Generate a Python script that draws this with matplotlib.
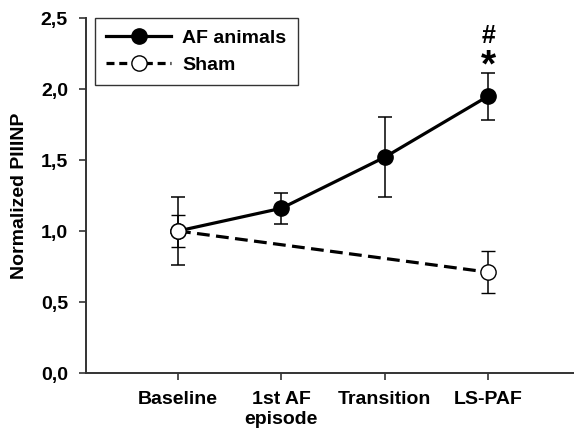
import numpy as np
import matplotlib.pyplot as plt
from matplotlib.lines import Line2D

plt.rcParams['font.family'] = ['Liberation Sans', 'DejaVu Sans']
plt.rcParams['font.weight'] = 'bold'

# data
stages = ['Baseline', '1st AF\nepisode', 'Transition', 'LS-PAF']
af_x = [1, 2, 3, 4]
af_y = [1.0, 1.16, 1.52, 1.95]
af_err = [0.24, 0.11, 0.28, 0.165]
sham_x = [1, 4]
sham_y = [1.0, 0.71]
sham_err = [0.11, 0.15]
yticks = [0.0, 0.5, 1.0, 1.5, 2.0, 2.5]

fig = plt.figure(figsize=(5.74, 4.4), dpi=100)
ax = fig.add_axes([86/574, 1-373/440, 1-86/574, (373-18)/440])

dash = (0, (4, 2))
ax.errorbar(af_x, af_y, yerr=af_err, color='black', lw=2.3, marker='o', ms=11,
            mfc='black', mec='black', ecolor='black', elinewidth=1.1, capsize=5,
            capthick=1.1, zorder=3)
ax.errorbar(sham_x, sham_y, yerr=sham_err, color='black', lw=2.3, ls=dash,
            marker='o', ms=11, mfc='white', mec='black', mew=1.0, ecolor='black',
            elinewidth=1.1, capsize=5, capthick=1.1, zorder=4)

ax.text(4, 2.37, '#', ha='center', va='center', fontsize=18, fontweight='bold')
ax.text(4, 2.16, '*', ha='center', va='center', fontsize=28, fontweight='bold')

ax.set_xlim(0.11, 4.83)
ax.set_ylim(0, 2.5)
ax.set_xticks(af_x)
ax.set_xticklabels(stages, fontsize=14, fontweight='bold', linespacing=1.2, va='top')
ax.set_yticks(yticks)
ax.set_yticklabels([f'{v:.1f}'.replace('.', ',') for v in yticks], fontsize=14,
                   fontweight='bold')
ax.set_ylabel('Normalized PIIINP', fontsize=14, fontweight='bold', labelpad=9)

for s in ['top', 'right']:
    ax.spines[s].set_visible(False)
for s in ['left', 'bottom']:
    ax.spines[s].set_color('#333333')
    ax.spines[s].set_linewidth(1.4)
ax.tick_params(direction='out', length=5, width=1.2, color='#333333', pad=8)

handles = [Line2D([], [], color='black', lw=2.3, marker='o', ms=11, mfc='black'),
           Line2D([], [], color='black', lw=2.3, ls=(0, (2.5, 1.5)), marker='o',
                  ms=11, mfc='white', mew=1.0)]
leg = ax.legend(handles, ['AF animals', 'Sham'], loc='upper left',
                bbox_to_anchor=(0.018, 1.0), fontsize=14, frameon=True,
                fancybox=False, edgecolor='black', handlelength=3.3,
                borderpad=0.6, labelspacing=0.45, handletextpad=0.6,
                borderaxespad=0)
leg.get_frame().set_linewidth(1.0)

fig.savefig('out.png', dpi=100)
